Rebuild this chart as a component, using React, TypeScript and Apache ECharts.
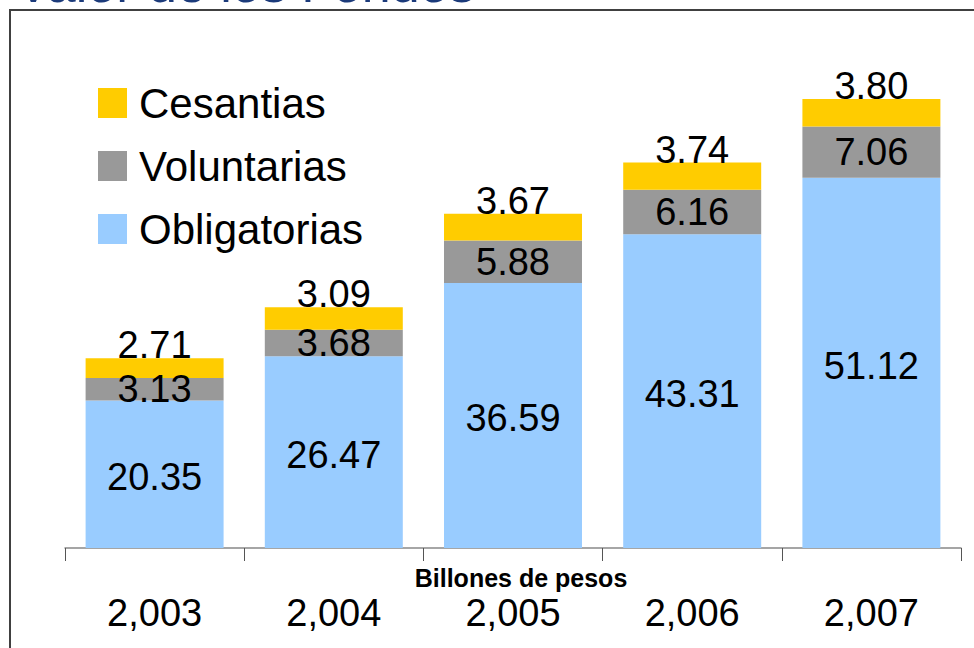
import React, { useEffect, useRef } from "react";
import * as echarts from "echarts";

const years = ["2,003", "2,004", "2,005", "2,006", "2,007"];
const obligatorias = [20.35, 26.47, 36.59, 43.31, 51.12];
const voluntarias = [3.13, 3.68, 5.88, 6.16, 7.06];
const cesantias = [2.71, 3.09, 3.67, 3.74, 3.8];
const legendOrder = ["Cesantias", "Voluntarias", "Obligatorias"];

const FONT = "'Liberation Sans', Arial, sans-serif";

export default function App() {
  const ref = useRef<HTMLDivElement>(null);
  useEffect(() => {
    if (!ref.current) return;
    const chart = echarts.init(ref.current, null, { renderer: "svg" });
    const labelStyle = {
      show: true,
      fontSize: 38,
      color: "#000",
      fontFamily: FONT,
      formatter: (p: any) => Number(p.value).toFixed(2),
    };
    chart.setOption({
      animation: false,
      backgroundColor: "#fff",
      textStyle: { fontFamily: FONT },
      grid: { left: 65, right: 13, top: 41, bottom: 100 },
      legend: {
        orient: "vertical",
        left: 93,
        top: 77,
        data: legendOrder,
        icon: "rect",
        itemWidth: 29,
        itemHeight: 30,
        itemGap: 21,
        textStyle: {
          fontSize: 42,
          lineHeight: 41,
          color: "#000",
          fontFamily: FONT,
          padding: [0, 0, 0, 7],
        },
      },
      xAxis: {
        type: "category",
        data: years,
        axisLine: { lineStyle: { color: "#888", width: 1.5 } },
        axisTick: { show: true, length: 13, interval: 0, lineStyle: { color: "#555" } },
        axisLabel: { fontSize: 38, color: "#000", margin: 46, fontFamily: FONT, interval: 0 },
      },
      yAxis: {
        type: "value",
        min: 0,
        max: 70,
        show: false,
        splitLine: { show: false },
      },
      graphic: [
        {
          type: "rect",
          shape: { x: 10, y: 10, width: 1200, height: 900 },
          style: { fill: "none", stroke: "#404040", lineWidth: 2 },
          silent: true,
        },
        {
          type: "text",
          x: 16,
          y: -16,
          style: {
            text: "Valor de los Fondos",
            fontSize: 52,
            fontFamily: FONT,
            fill: "#1b3a7a",
            verticalAlign: "middle",
            align: "left",
          },
        },
        {
          type: "text",
          x: 521,
          y: 578,
          style: {
            text: "Billones de pesos",
            fontSize: 25,
            fontWeight: "bold",
            fontFamily: FONT,
            fill: "#000",
            align: "center",
            verticalAlign: "middle",
          },
        },
      ],
      series: [
        {
          name: "Obligatorias",
          type: "bar",
          stack: "total",
          barWidth: "77%",
          data: obligatorias,
          itemStyle: { color: "#99ccff" },
          label: { ...labelStyle, position: "inside", offset: [0, 3] },
        },
        {
          name: "Voluntarias",
          type: "bar",
          stack: "total",
          data: voluntarias,
          itemStyle: { color: "#999999" },
          label: { ...labelStyle, position: "inside" },
        },
        {
          name: "Cesantias",
          type: "bar",
          stack: "total",
          data: cesantias,
          itemStyle: { color: "#ffcc00" },
          label: { ...labelStyle, position: "top", distance: -6 },
        },
      ],
    });
    return () => chart.dispose();
  }, []);
  return (
    <div
      ref={ref}
      style={{ position: "fixed", left: 0, top: 0, width: 974, height: 648 }}
    />
  );
}
